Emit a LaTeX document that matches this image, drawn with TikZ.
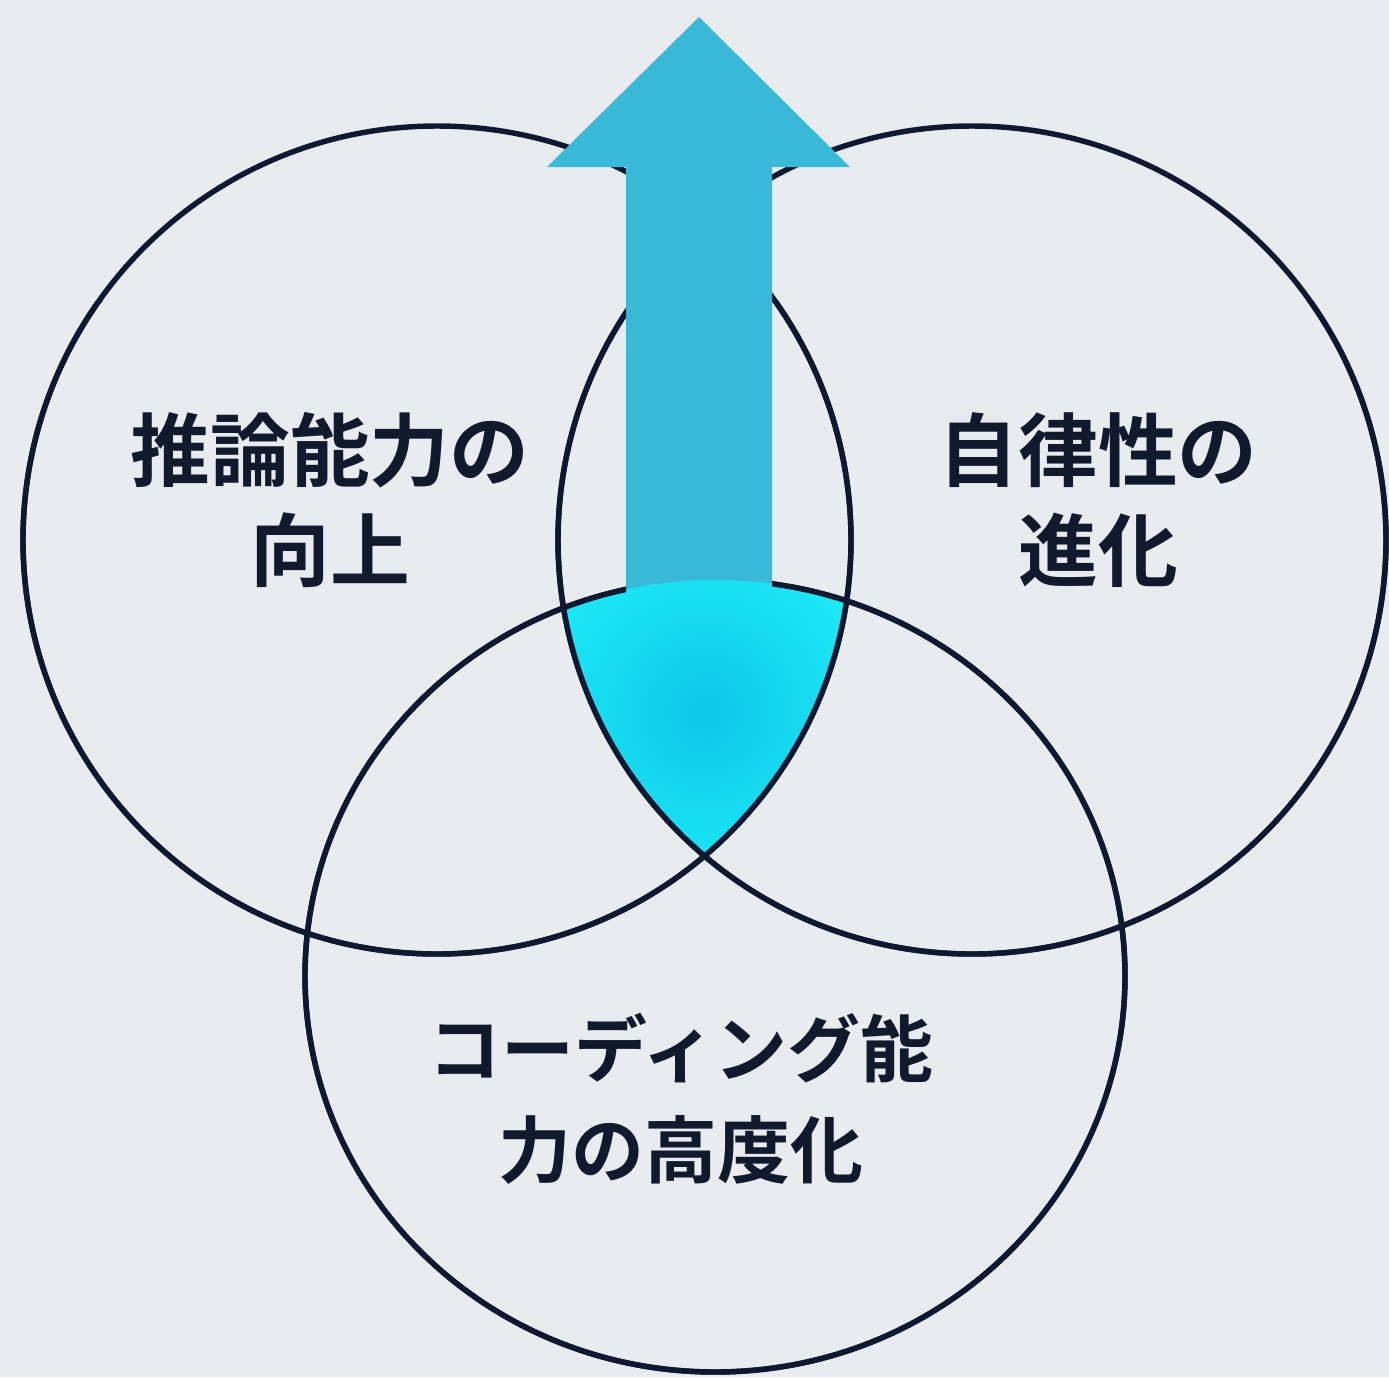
\documentclass[tikz,border=0pt]{standalone}
\usepackage{fontspec}
\newfontfamily\jpfont{Noto Sans CJK JP}[BoldFont={* Bold}]
\definecolor{bgc}{HTML}{E8ECEF}
\definecolor{ink}{HTML}{0E1830}
\definecolor{txt}{HTML}{111A2D}
\definecolor{arrowc}{HTML}{3AB8D8}
\definecolor{cyin}{HTML}{0EC6E8}
\definecolor{cyout}{HTML}{20F2FA}
\begin{document}
\begin{tikzpicture}[x=0.02cm,y=-0.02cm,
  ring/.style={draw=ink,line width=3.1pt},
  bigtext/.style={text=txt,align=center,font=\jpfont\bfseries\fontsize{45.4}{56.7}\selectfont},
  lowtext/.style={text=txt,align=center,font=\jpfont\bfseries\fontsize{41.5}{57.3}\selectfont}]
\useasboundingbox (0,0) rectangle (1389,1377);
\fill[bgc] (0,0) rectangle (1389,1377);
\coordinate (cL) at (437,540);
\coordinate (cR) at (972,540);
\coordinate (cB) at (715,976);
\def\rL{414}\def\rR{414}
\tikzset{bshape/.style={x radius=410,y radius=396}}
% outlines
\draw[ring] (cL) circle[radius=\rL];
\draw[ring] (cR) circle[radius=\rR];
\draw[ring] (cB) ellipse[bshape];
% arrow
\fill[arrowc] (626,620) -- (626,167) -- (547,167) -- (699,17) -- (850,167) -- (772,167) -- (772,620) -- cycle;
% triple intersection
\begin{scope}
  \clip (cL) circle[radius=\rL];
  \clip (cR) circle[radius=\rR];
  \clip (cB) ellipse[bshape];
  \shade[inner color=cyin,outer color=cyout] (705,712) circle[radius=215];
\end{scope}
% redraw outlines except under the arrow
\begin{scope}
  \clip (0,600) rectangle (1389,1377) (0,300) rectangle (626,1377) (772,300) rectangle (1389,1377);
  \draw[ring] (cL) circle[radius=\rL];
  \draw[ring] (cR) circle[radius=\rR];
  \draw[ring] (cB) ellipse[bshape];
\end{scope}
% labels
\node[bigtext] (tl) at (330,500) {推論能力の\\向上};
\node[bigtext] (tr) at (1098,500) {自律性の\\進化};
\node[lowtext] (tb) at (681,1099) {コーディング能\\力の高度化};
\end{tikzpicture}
\end{document}
